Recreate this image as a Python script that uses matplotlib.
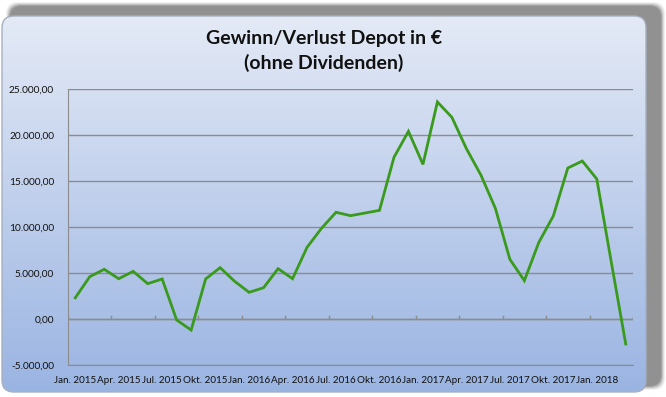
import numpy as np
import matplotlib
matplotlib.use("Agg")
import matplotlib.pyplot as plt
from matplotlib.patches import FancyBboxPatch
from matplotlib.ticker import FuncFormatter

# ------------------ Daten (monatlich, Jan. 2015 - Mrz. 2018) ------------------
werte = [2300, 4600, 5400, 4380, 5180, 3840, 4350, -110, -1200, 4350,
         5580, 4100, 2900, 3400, 5470, 4380, 7790, 9860, 11600, 11230,
         11520, 11810, 17570, 20400, 16810, 23590, 21920, 18520, 15650, 12030,
         6490, 4170, 8330, 11200, 16410, 17170, 15220, 6200, -2720]
monat_labels = ["Jan. 2015", "Apr. 2015", "Jul. 2015", "Okt. 2015",
                "Jan. 2016", "Apr. 2016", "Jul. 2016", "Okt. 2016",
                "Jan. 2017", "Apr. 2017", "Jul. 2017", "Okt. 2017", "Jan. 2018"]
y_ticks = [-5000, 0, 5000, 10000, 15000, 20000, 25000]

plt.rcParams['font.family'] = ['Lato', 'DejaVu Sans']

W, H = 666, 397
fig = plt.figure(figsize=(W / 100, H / 100), dpi=100)
fig.patch.set_facecolor("white")

# Hintergrund in Pixelkoordinaten
bg = fig.add_axes([0, 0, 1, 1])
bg.set_xlim(0, W)
bg.set_ylim(H, 0)
bg.axis("off")

# Schatten (weich, mehrere Schichten)
for i, a in enumerate([0.12, 0.2, 0.35, 0.6, 0.9]):
    d = 4 - i
    sh = FancyBboxPatch((10 - d, 6 - d), 651 + 2 * d, 380 + 2 * d,
                        boxstyle="round,pad=0,rounding_size=12",
                        facecolor="#8f8f8f", edgecolor="none", alpha=a)
    bg.add_patch(sh)

rahmen = FancyBboxPatch((2, 16), 644, 376, boxstyle="round,pad=0,rounding_size=12",
                        facecolor="none", edgecolor="#a6b0c0", linewidth=1.0, zorder=3)
bg.add_patch(rahmen)
grad = np.linspace(0, 1, 256).reshape(-1, 1)
top = np.array([228, 234, 246]) / 255
bot = np.array([154, 180, 226]) / 255
img = top + (bot - top) * grad[..., None]
im = bg.imshow(img, extent=(2, 646, 392, 16), aspect="auto", zorder=2)
im.set_clip_path(rahmen)
bg.set_xlim(0, W)
bg.set_ylim(H, 0)

bg.text(324, 51, "Gewinn/Verlust Depot in €\n(ohne Dividenden)", ha="center", va="center",
        fontsize=14, fontweight="bold", color="#111111", linespacing=1.4, zorder=4)

# ------------------ Diagramm ------------------
ax = fig.add_axes([68 / W, 1 - 365 / H, 565 / W, 276 / H])
ax.patch.set_alpha(0)
x = np.arange(len(werte))
ax.plot(x, werte, color="#3a9a1c", linewidth=2.0, solid_joinstyle="miter", zorder=3)

ax.set_xlim(-0.5, len(werte) - 0.5)
ax.set_ylim(-5000, 25000)
ax.set_yticks(y_ticks)
ax.yaxis.set_major_formatter(FuncFormatter(
    lambda v, p: f"{v:,.2f}".replace(",", "X").replace(".", ",").replace("X", ".")))
ax.grid(axis="y", color="#8c8c8c", linewidth=1.0)
ax.tick_params(axis="y", length=0, labelsize=7.3, pad=10, colors="#111111")

ax.set_xticks(x[::3])
ax.set_xticklabels(monat_labels)
ax.tick_params(axis="x", length=0, labelsize=7.1, pad=8, colors="#111111")

# Kategorie-Achse bei 0 mit Teilstrichen
ax.axhline(0, color="#8c8c8c", linewidth=1.0, zorder=2)
for t in np.arange(-0.5, len(werte), 3):
    ax.plot([t, t], [0, 350], color="#8c8c8c", linewidth=1.0, zorder=2)

for s in ["top", "right"]:
    ax.spines[s].set_visible(False)
ax.spines["left"].set_color("#8c8c8c")
ax.spines["bottom"].set_color("#8c8c8c")

fig.savefig("out.png", dpi=100)
